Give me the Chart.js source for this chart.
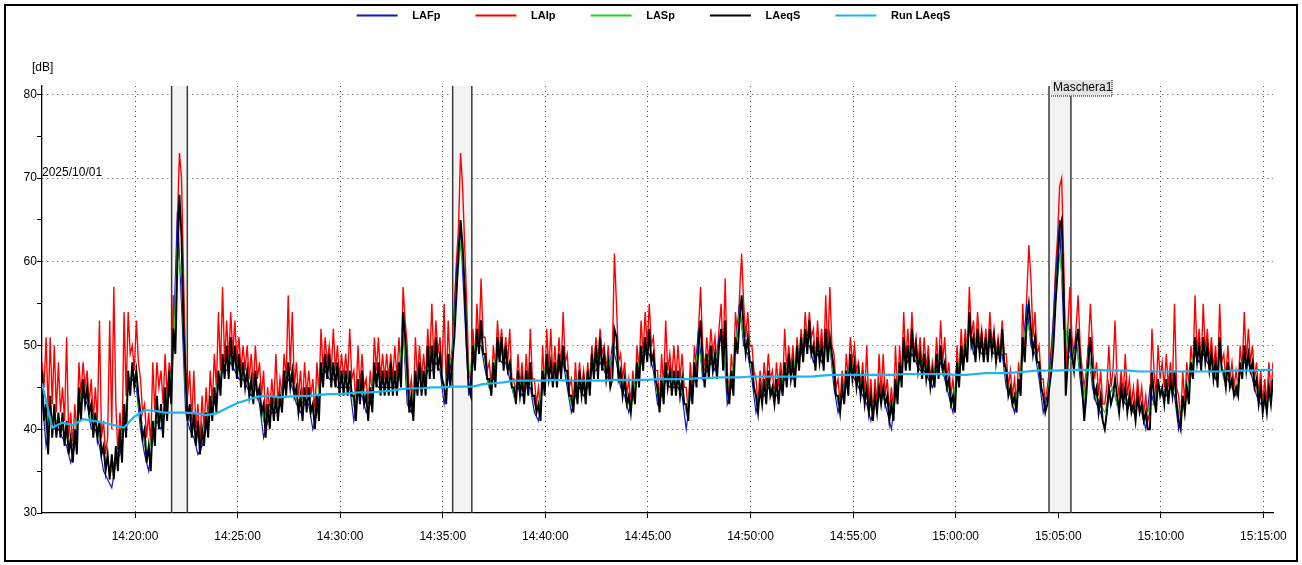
<!DOCTYPE html>
<html>
<head>
<meta charset="utf-8">
<script src="https://cdn.jsdelivr.net/npm/chart.js@4.4.0/dist/chart.umd.min.js"></script>
<style>
html,body{margin:0;padding:0;background:#fff;overflow:hidden}
#wrap{width:1302px;height:565px;position:relative;background:#fff}
</style>
</head>
<body>
<div id="wrap"><canvas id="c" width="1302" height="565"></canvas></div>
<script>
// ---------- DATA ----------
const startTime = '14:15:28';           // first sample
const stepLAIp = 6, stepLAeqS = 6;      // seconds between samples
const stepLAFp = 12, stepLASp = 12;
const stepRun = 30;
const spanSeconds = 3600;

const seriesNames = ['LAFp', 'LAIp', 'LASp', 'LAeqS', 'Run LAeqS'];

// LAeqS, one line per minute (10 samples / minute)
const LAeqS = [
47,41,43,37,44,39,43,39,42,39,
42,38,41,37,39,36,40,37,45,41,
46,43,45,42,43,39,42,39,41,37,
38,35,37,34,37,34,38,35,40,36,
43,39,47,44,48,45,47,44,42,39,
40,36,38,35,41,38,44,40,43,39,
45,41,47,43,52,49,60,68,63,52,
46,41,43,39,42,38,41,37,40,38,
42,39,44,41,45,42,47,44,49,46,
50,46,51,47,50,46,49,45,48,45,
47,44,46,43,47,44,45,42,43,39,
43,40,44,41,44,41,44,42,47,44,
48,45,47,44,45,42,44,41,45,42,
45,42,43,40,44,41,48,45,49,46,
49,45,48,45,48,44,47,44,47,44,
47,44,44,41,46,43,47,43,44,41,
45,42,48,45,48,44,47,44,47,44,
48,44,47,44,48,45,54,51,47,42,
44,41,47,44,48,44,47,44,50,46,
50,46,51,47,49,46,45,43,49,45,
48,51,56,61,65,62,57,50,45,44,
50,47,52,49,53,49,49,46,46,44,
48,45,51,48,51,47,50,47,48,45,
45,43,47,44,46,43,47,44,48,44,
44,42,43,41,47,44,49,46,48,45,
48,45,49,46,50,47,47,44,44,42,
46,43,47,44,46,43,47,44,49,46,
50,46,51,47,49,46,48,45,46,52,
51,46,47,44,46,43,44,42,45,43,
48,45,50,47,51,48,52,48,49,46,
45,42,46,43,48,45,47,44,47,44,
47,44,46,43,43,41,46,43,48,45,
50,53,48,45,49,46,50,47,49,46,
50,52,47,53,45,43,47,44,51,49,
53,56,52,49,51,48,48,45,44,42,
45,43,46,43,47,44,45,43,46,43,
46,44,48,45,49,46,48,45,50,47,
51,48,52,49,53,49,50,47,51,48,
50,47,52,48,51,49,47,44,44,42,
45,43,47,44,49,46,48,45,47,44,
46,43,45,42,44,41,44,42,45,43,
45,43,44,41,43,41,46,43,48,45,
51,47,50,47,52,48,50,47,49,46,
49,46,48,45,47,45,49,46,50,47,
48,45,46,43,44,42,48,45,50,47,
50,48,54,50,51,48,52,49,51,48,
51,48,52,49,51,48,50,48,52,48,
47,44,45,43,44,42,46,44,51,48,
53,55,52,49,51,48,48,45,44,42,
43,45,47,50,55,59,64,65,56,44,
48,52,49,47,50,52,48,45,41,44,
48,51,47,44,45,42,44,41,40,42,
45,43,44,46,44,42,45,43,45,42,
44,42,43,41,44,42,43,41,42,40,
40,47,44,42,46,44,45,43,46,43,
46,44,47,43,41,40,44,42,45,43,
48,46,51,48,50,47,51,48,50,47,
49,46,48,45,51,47,47,45,48,45,
46,44,45,44,48,46,50,47,49,47,
48,45,46,43,45,42,44,42,45,43,
46
];

// LAIp, one line per minute (10 samples / minute)
const LAIp = [
48,45,51,42,51,43,50,42,48,42,
45,41,51,39,42,38,43,39,48,44,
48,45,47,43,46,41,45,41,53,39,
41,37,39,53,40,57,43,37,42,38,
54,44,54,49,50,47,53,48,46,42,
43,39,42,38,48,42,48,45,47,43,
49,44,48,46,56,51,65,73,70,58,
48,44,47,41,47,40,43,38,44,40,
45,41,47,43,49,45,54,47,57,48,
53,48,54,49,53,48,51,47,50,47,
50,46,49,45,50,46,48,44,47,41,
45,42,46,43,49,43,46,44,49,46,
56,47,54,45,48,44,47,43,48,44,
47,44,46,42,48,44,52,47,51,48,
50,47,52,47,50,46,49,46,49,46,
52,46,47,43,50,45,49,45,46,43,
47,44,51,47,51,46,49,46,49,46,
49,46,50,46,51,47,57,53,50,44,
46,43,51,46,50,46,49,46,52,48,
55,48,53,49,51,47,55,45,53,47,
50,55,60,64,73,69,62,55,47,46,
52,48,55,50,58,51,51,47,48,45,
50,47,53,49,52,48,51,48,52,46,
46,44,49,45,48,44,49,45,52,46,
46,43,45,42,50,45,52,47,52,46,
50,46,51,47,54,48,49,45,46,43,
48,44,48,45,47,44,48,45,50,47,
51,48,52,49,50,47,50,46,49,61,
55,48,49,46,48,44,46,43,47,44,
50,47,53,49,54,50,55,50,51,47,
47,43,49,45,53,47,49,46,50,46,
50,46,49,45,45,42,48,44,50,47,
52,57,50,47,51,48,52,49,51,48,
52,55,49,58,47,44,49,46,54,51,
56,61,55,51,54,50,50,47,46,43,
47,44,48,45,49,46,47,44,48,45,
48,45,52,47,50,47,50,46,51,48,
52,49,54,50,54,51,52,48,53,49,
52,48,56,49,57,50,49,45,46,43,
47,44,49,46,51,48,50,47,48,45,
48,44,50,43,46,42,46,43,49,44,
49,44,46,42,45,42,50,44,50,46,
54,48,52,48,54,49,51,48,51,47,
51,47,50,46,48,46,51,47,53,48,
51,46,48,44,46,43,50,46,52,48,
52,49,57,51,53,49,54,50,52,49,
52,49,54,50,52,49,51,49,53,49,
49,45,47,44,46,43,48,45,55,50,
56,62,58,51,54,49,50,46,46,43,
45,47,50,53,59,63,69,70,60,47,
52,57,51,49,52,56,50,47,45,47,
50,55,50,46,48,44,47,43,43,45,
50,45,47,53,46,44,47,44,49,44,
46,43,45,42,46,43,45,42,44,41,
42,52,47,44,50,46,48,45,49,45,
48,45,55,45,44,41,47,43,48,45,
50,47,56,49,52,48,55,49,52,48,
51,47,50,46,55,48,49,46,50,46,
48,45,47,45,50,47,54,48,52,48,
50,46,48,44,47,43,46,43,48,44,
48
];

// LAFp, one line per minute (5 samples / minute)
const LAFp = [
44,38,41,40,40, 39,38,36,38,42, 44,43,40,40,38, 35,34,33,36,37, 40,45,46,45,40,
37,35,39,41,40, 42,44,50,66,55, 42,40,39,37,38, 40,42,43,45,47, 47,48,47,46,46,
45,44,45,43,39, 41,42,42,43,45, 46,45,43,42,43, 43,40,42,46,47, 46,46,45,45,45,
45,41,44,44,42, 43,46,45,45,45, 45,45,46,52,43, 42,45,45,45,47, 47,48,47,43,46,
49,59,64,54,44, 48,50,50,47,45, 46,49,48,48,46, 44,45,44,45,45, 42,41,45,47,46,
46,47,48,45,42, 44,45,44,45,47, 47,48,47,46,50, 48,45,44,42,44, 46,48,49,49,47,
43,44,46,45,45, 45,44,40,44,46, 52,46,47,48,47, 51,51,43,45,50, 55,50,49,46,42,
44,44,45,44,44, 45,46,47,46,48, 49,50,50,48,49, 48,50,50,45,42, 44,45,47,46,45,
44,43,41,43,44, 44,42,40,44,46, 49,48,49,48,47, 47,46,45,47,48, 46,44,42,46,48,
49,52,49,50,49, 49,50,49,49,49, 45,44,42,45,49, 55,50,49,46,42, 44,49,58,65,52,
51,48,51,46,42, 50,45,43,42,40, 44,45,43,44,43, 43,42,43,42,40, 45,43,45,44,44,
45,44,40,43,44, 47,49,48,49,48, 47,46,49,46,46, 45,44,47,48,48, 46,44,43,43,44,
45
];

// LASp, one line per minute (5 samples / minute)
const LASp = [
45,40,42,41,41, 40,39,38,39,43, 45,44,41,41,39, 37,36,35,37,38, 41,45,47,46,41,
38,37,40,42,41, 43,45,49,62,58, 44,41,40,39,39, 41,43,44,46,47, 48,49,48,47,47,
46,45,45,44,41, 42,43,43,43,46, 47,46,44,43,44, 44,42,43,47,48, 47,47,46,46,46,
46,43,45,45,43, 44,47,46,46,46, 46,46,47,52,45, 43,46,46,46,48, 48,49,48,45,47,
49,57,62,58,46, 49,51,51,48,45, 47,50,49,49,47, 44,46,45,46,46, 43,42,46,48,47,
47,48,49,46,43, 45,46,45,46,48, 48,49,48,47,49, 50,46,45,43,44, 47,49,50,50,48,
44,45,47,46,46, 46,45,42,45,47, 50,47,48,49,48, 50,50,45,46,50, 54,51,50,47,44,
44,45,46,44,45, 45,47,48,47,49, 50,51,51,49,50, 49,50,50,46,43, 44,46,48,47,46,
45,44,43,43,44, 44,43,42,45,47, 49,49,50,49,48, 48,47,46,48,49, 47,45,43,47,49,
49,52,50,51,50, 50,51,50,49,50, 46,44,43,45,50, 53,51,50,47,44, 44,48,55,61,56,
49,48,50,47,44, 49,46,44,43,42, 44,45,43,44,44, 43,42,43,42,41, 43,43,45,44,45,
45,45,42,43,44, 47,50,49,50,49, 48,47,49,46,47, 45,45,47,49,48, 47,45,44,43,44,
45
];

// Run LAeqS, one line per 5 minutes (every 30 s)
const RunLAeqS = [
45.5,40.2,40.8,40.5,41.2,41.0,40.8,40.5,40.2,41.5,
42.3,42.2,42.0,42.0,42.0,41.9,41.7,41.9,42.5,43.1,
43.5,43.9,44.0,43.8,43.9,44.0,44.0,44.1,44.2,44.2,
44.3,44.4,44.4,44.5,44.6,44.8,44.9,44.9,45.0,45.0,
45.1,45.1,45.1,45.4,45.5,45.6,45.8,45.8,45.8,45.8,
45.9,45.8,45.8,45.8,45.8,45.8,45.9,45.9,45.9,45.9,
46.0,46.0,46.0,46.0,46.1,46.1,46.2,46.2,46.2,46.3,
46.3,46.3,46.3,46.3,46.3,46.3,46.4,46.5,46.5,46.5,
46.5,46.5,46.5,46.5,46.6,46.6,46.6,46.6,46.6,46.5,
46.5,46.6,46.7,46.7,46.7,46.8,46.9,47.0,47.0,47.0,
47.1,47.1,47.1,47.1,47.0,47.0,47.0,46.9,46.9,46.9,
46.9,46.9,46.9,46.9,46.9,46.9,47.0,47.0,47.0,47.1,
47.1
];

const timeTickLabels = ['14:20:00','14:25:00','14:30:00','14:35:00','14:40:00','14:45:00',
                        '14:50:00','14:55:00','15:00:00','15:05:00','15:10:00','15:15:00'];
const yTickValues = [30,35,40,45,50,55,60,65,70,75,80];
const yLabelEvery = 10;
const yMin = 30, yMax = 81;

const maskBands = [['14:21:47','14:22:33'], ['14:35:29','14:36:25'], ['15:04:33','15:05:37']];
const maskLabel = 'Maschera1';
const dateText = '2025/10/01';
const unitText = '[dB]';

// ---------- helpers ----------
function toSec(s){ const p = s.split(':').map(Number); return p[0]*3600 + p[1]*60 + p[2]; }
function fmt(v){ const h = Math.floor(v/3600), m = Math.floor((v%3600)/60), s = Math.round(v%60);
  return String(h).padStart(2,'0')+':'+String(m).padStart(2,'0')+':'+String(s).padStart(2,'0'); }
const t0 = toSec(startTime);
function pts(arr, step){ return arr.map((v,i)=>({x: t0 + i*step, y: v})); }

Chart.defaults.font.family = "'Liberation Sans', Arial, sans-serif";
Chart.defaults.font.size = 12;
Chart.defaults.color = '#000';

const overlay = {
  id: 'overlay',
  beforeDatasetsDraw(chart){
    const {ctx, chartArea: a, scales: {x}} = chart;
    ctx.save();
    maskBands.forEach(([b0,b1])=>{
      const x0 = x.getPixelForValue(toSec(b0)), x1 = x.getPixelForValue(toSec(b1));
      ctx.fillStyle = '#f3f3f3';
      ctx.fillRect(x0, a.top, x1-x0, a.bottom - a.top - 1);
      ctx.strokeStyle = '#3a3a3a'; ctx.lineWidth = 1.5;
      ctx.beginPath();
      ctx.moveTo(x0, a.top); ctx.lineTo(x0, a.bottom);
      ctx.moveTo(x1, a.top); ctx.lineTo(x1, a.bottom);
      ctx.stroke();
    });
    ctx.restore();
  },
  afterDraw(chart){
    const {ctx, chartArea: a, scales: {x, y}} = chart;
    ctx.save();
    ctx.font = "12px 'Liberation Sans', Arial, sans-serif";
    ctx.fillStyle = '#000';
    ctx.textBaseline = 'middle';
    ctx.textAlign = 'left';
    ctx.fillText(unitText, a.left - 10, a.top - 18);
    ctx.fillText(dateText, a.left, y.getPixelForValue(70.7));
    // mask label
    const bx = x.getPixelForValue(toSec(maskBands[2][0])) + 1;
    const by = a.top - 7, bw = 62, bh = 17;
    ctx.fillStyle = '#e4e4e4';
    ctx.fillRect(bx, by, bw, bh);
    ctx.strokeStyle = '#ffffff'; ctx.lineWidth = 1;
    ctx.beginPath(); ctx.moveTo(bx+0.5, by+bh); ctx.lineTo(bx+0.5, by+0.5); ctx.lineTo(bx+bw, by+0.5); ctx.stroke();
    ctx.strokeStyle = '#777777'; ctx.setLineDash([1,1]); ctx.lineWidth = 2;
    ctx.beginPath(); ctx.moveTo(bx+1, by+bh); ctx.lineTo(bx+bw, by+bh); ctx.lineTo(bx+bw, by+1); ctx.stroke();
    ctx.setLineDash([]);
    ctx.fillStyle = '#000';
    ctx.fillText(maskLabel, bx + 3, by + bh/2 + 0.5);
    // outer frame
    ctx.strokeStyle = '#000'; ctx.lineWidth = 2;
    ctx.strokeRect(5, 5, 1292, 556);
    ctx.restore();
  }
};

const colors = {LAFp:'#1414d2', LAIp:'#ff0000', LASp:'#1fd41f', LAeqS:'#000000', 'Run LAeqS':'#1ab6ee'};
const mk = (name, arr, step, order, width) => ({
  label: name, data: pts(arr, step), borderColor: colors[name], backgroundColor: colors[name],
  borderWidth: width, pointRadius: 0, tension: 0, order: order
});

new Chart(document.getElementById('c'), {
  type: 'line',
  data: { datasets: [
    mk(seriesNames[0], LAFp, stepLAFp, 3, 1.2),
    mk(seriesNames[1], LAIp, stepLAIp, 4, 1.4),
    mk(seriesNames[2], LASp, stepLASp, 2, 1.2),
    mk(seriesNames[3], LAeqS, stepLAeqS, 1, 1.9),
    mk(seriesNames[4], RunLAeqS, stepRun, 0, 2.2)
  ]},
  options: {
    responsive: false, animation: false, devicePixelRatio: 1,
    events: [],
    layout: { padding: { top: -25, left: 34, right: 29, bottom: 0 } },
    plugins: {
      legend: {
        position: 'top',
        labels: {
          boxWidth: 41, boxHeight: 2, padding: 35, color: '#000',
          font: { size: 11, weight: 'bold' },
          sort: (a,b) => a.datasetIndex - b.datasetIndex,
          generateLabels(chart){
            const items = Chart.defaults.plugins.legend.labels.generateLabels(chart);
            return items.map(it => Object.assign({}, it, { text: '   ' + it.text, fillStyle: it.strokeStyle, lineWidth: 0 }));
          }
        }
      },
      title: { display: true, text: '', weight: 500, padding: { top: 40.6, bottom: 0 } },
      tooltip: { enabled: false }
    },
    scales: {
      x: {
        type: 'linear', min: t0, max: t0 + spanSeconds,
        afterBuildTicks: s => { s.ticks = timeTickLabels.map(l => ({ value: toSec(l) })); },
        afterFit: s => { s.height = 52; },
        ticks: { autoSkip: false, maxRotation: 0, padding: 11, color: '#000', font: { size: 12 },
                 callback: v => fmt(v) },
        grid: { color: '#4a4a4a', lineWidth: 1, drawTicks: true, tickLength: 5, tickColor: '#000' },
        border: { display: true, color: '#000', width: 1.3, dash: [1,4] }
      },
      y: {
        type: 'linear', min: yMin, max: yMax,
        afterBuildTicks: s => { s.ticks = yTickValues.map(v => ({ value: v })); },
        afterFit: s => { s.width = 8; },
        ticks: { autoSkip: false, mirror: true, crossAlign: 'far', padding: -18.5, color: '#000', font: { size: 12 },
                 callback: v => (v % yLabelEvery === 0 ? String(v) : '') },
        grid: {
          color: c => (c.tick && c.tick.value % 10 === 0 && c.tick.value > 30) ? '#4a4a4a' : 'rgba(0,0,0,0)',
          lineWidth: 1, drawTicks: true, tickLength: 5, tickColor: '#000'
        },
        border: { display: true, color: '#000', width: 1.3, dash: [1,4] }
      }
    }
  },
  plugins: [overlay]
});
</script>
</body>
</html>
